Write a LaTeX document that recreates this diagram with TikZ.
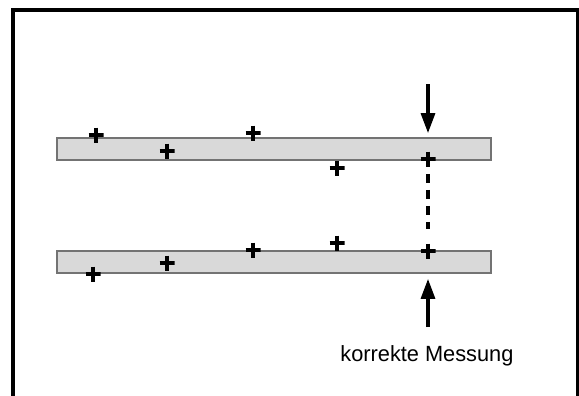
\documentclass[tikz,border=0pt]{standalone}
\usepackage{fontspec}
\setmainfont{Liberation Sans}
\usetikzlibrary{arrows.meta}

\begin{document}
\begin{tikzpicture}[x = 0.5pt, y = -0.5pt, balken/.style = {draw = black!55, fill = black!15, line width = 0.6pt}, kreuz/.style = {inner sep = 0pt, minimum size = 7.5pt, path picture = {\draw[line width = 2.4pt] (path picture bounding box.north) -- (path picture bounding box.south) (path picture bounding box.west) -- (path picture bounding box.east);}}, pfeil/.style = {-{Triangle[length = 10pt, width = 7pt]}, line width = 1.6pt}, messlinie/.style = {line width = 1.6pt, dash pattern = on 4.5pt off 3.5pt}]
\clip (0,0) rectangle (579,396);
\fill[white] (0,0) rectangle (579,396);
\draw[line width = 2pt] (13,10) rectangle (578,430);

% two bars
\draw[balken] (57,138) rectangle (491,160);
\draw[balken] (57,251) rectangle (491,273);

% marks on the upper bar
\node[kreuz] (t1) at (96,135) {};
\node[kreuz] (t2) at (167,151) {};
\node[kreuz] (t3) at (253,133) {};
\node[kreuz] (t4) at (337,168) {};
\node[kreuz] (t5) at (428,159) {};

% marks on the lower bar
\node[kreuz] (b1) at (93,274) {};
\node[kreuz] (b2) at (167,263) {};
\node[kreuz] (b3) at (253,250) {};
\node[kreuz] (b4) at (337,243) {};
\node[kreuz] (b5) at (428,251) {};

\node[anchor = base west, inner sep = 0pt, xscale = 0.99, transform shape, font = \fontsize{11}{13}\selectfont] (messung) at (340,361) {korrekte Messung};

\coordinate (pfeilO) at (428,84);
\coordinate (pfeilU) at (428,327);

\path (t5) edge[messlinie, shorten < = 3.5pt, shorten > = 7pt] (b5);
\path (pfeilO) edge[pfeil, shorten > = 9pt] (t5);
\path (pfeilU) edge[pfeil, shorten > = 10pt] (b5);
\end{tikzpicture}
\end{document}
